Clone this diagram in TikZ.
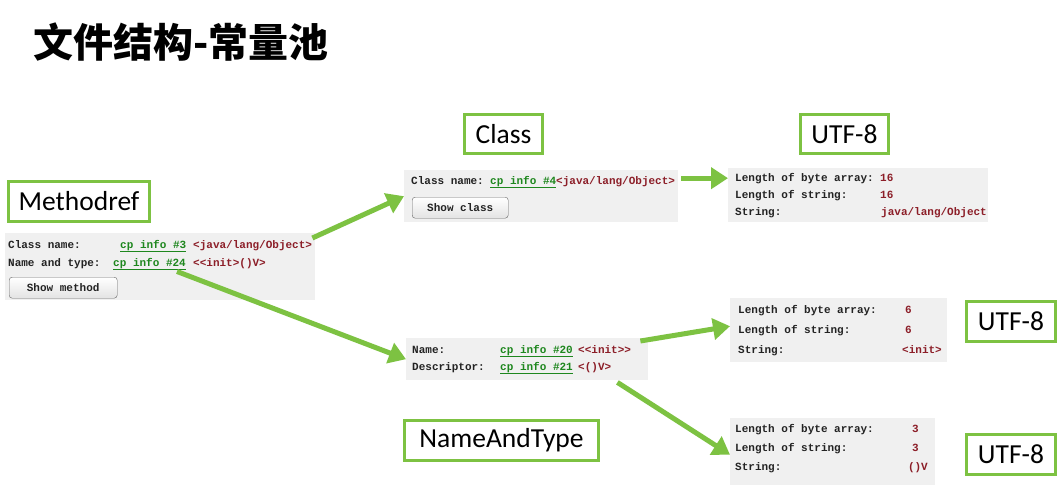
\documentclass[tikz,border=0pt]{standalone}
\usepackage{fontspec}
\setmainfont{Carlito}
\newfontfamily\cjk{Noto Sans CJK SC}
\newfontfamily\monof{Liberation Mono}
\usetikzlibrary{arrows.meta,calc}
\definecolor{lime}{RGB}{125,194,66}
\definecolor{panelbg}{RGB}{240,240,240}
\definecolor{lnkc}{RGB}{30,135,30}
\definecolor{valc}{RGB}{140,30,40}
\definecolor{lblc}{RGB}{35,35,35}
\begin{document}
\begin{tikzpicture}[x=1pt,y=-1pt,
  panel/.style={fill=panelbg, draw=none, anchor=north west, inner sep=0},
  tag/.style={draw=lime, line width=3pt, fill=white, anchor=north west, inner sep=0,
    font=\fontsize{27.5}{30}\selectfont, text=black},
  txt/.style={anchor=base west, inner sep=0, text=lblc, font=\monof\bfseries\fontsize{11}{13}\selectfont},
  lnk/.style={txt, text=lnkc},
  val/.style={txt, text=valc},
  btn/.style={draw=gray!80!black, rounded corners=3pt, top color=white, bottom color=gray!22,
    anchor=north west, inner sep=0, text=lblc, font=\monof\bfseries\fontsize{11}{13}\selectfont},
  arr/.style={draw=lime, line width=5pt, -{Triangle[length=17pt,width=21pt]}}
]
\fill[white] (0,0) rectangle (1059,487);
\useasboundingbox (0,0) rectangle (1059,487);

% title
\node[anchor=west, inner sep=0, font=\cjk\bfseries\fontsize{40}{44}\selectfont] (title) at (33,42) {文件结构-常量池};

% panels
\node[panel, minimum width=310, minimum height=67] (p1) at (5,233) {};
\node[panel, minimum width=274, minimum height=52] (p2) at (404,170) {};
\node[panel, minimum width=260, minimum height=54] (p3) at (728,168) {};
\node[panel, minimum width=242, minimum height=42] (p4) at (406,338) {};
\node[panel, minimum width=217, minimum height=64] (p5) at (730,298) {};
\node[panel, minimum width=205, minimum height=67] (p6) at (730,418) {};

% panel 1
\node[txt] (p1a) at (8,248) {Class name:};
\node[lnk] (l3) at (120,248) {\underline{cp info \#3}};
\node[val] (v1a) at (193,248) {<java/lang/Object>};
\node[txt] (p1b) at (8,266) {Name and type:};
\node[lnk] (l24) at (113,266) {\underline{cp info \#24}};
\node[val] (v1b) at (193,266) {<<init>()V>};
\node[btn, minimum width=108, minimum height=21] (b1) at (9,277) {Show method};

% panel 2
\begin{scope}[every node/.append style={font=\monof\bfseries\fontsize{10.5}{12}\selectfont}]
\node[txt] (p2a) at (411,184) {Class name:};
\node[lnk] (l4) at (490,184) {\underline{cp info \#4}};
\node[val] (v2) at (556,184) {<java/lang/Object>};
\node[btn, minimum width=96, minimum height=21] (b2) at (412,197) {Show class};
\end{scope}

% panel 3
\node[txt] (p3a) at (735,181) {Length of byte array:};
\node[val] (v3a) at (880,181) {16};
\node[txt] (p3b) at (735,198) {Length of string:};
\node[val] (v3b) at (880,198) {16};
\node[txt] (p3c) at (735,215) {String:};
\node[val] (v3c) at (881,215) {java/lang/Object};

% panel 4
\node[txt] (p4a) at (412,353) {Name:};
\node[lnk] (l20) at (500,353) {\underline{cp info \#20}};
\node[val] (v4a) at (578,353) {<<init>>};
\node[txt] (p4b) at (412,370) {Descriptor:};
\node[lnk] (l21) at (500,370) {\underline{cp info \#21}};
\node[val] (v4b) at (578,370) {<()V>};

% panel 5
\begin{scope}[every node/.append style={font=\monof\bfseries\fontsize{11.7}{13}\selectfont}]
\node[txt] (p5a) at (738,313) {Length of byte array:};
\node[val] (v5a) at (905,313) {6};
\node[txt] (p5b) at (738,333) {Length of string:};
\node[val] (v5b) at (905,333) {6};
\node[txt] (p5c) at (738,353) {String:};
\node[val, anchor=base east] (v5c) at (942,353) {<init>};
\end{scope}

% panel 6
\begin{scope}[every node/.append style={font=\monof\bfseries\fontsize{12}{14}\selectfont}]
\node[txt] (p6a) at (735,432) {Length of byte array:};
\node[val] (v6a) at (912,432) {3};
\node[txt] (p6b) at (735,451) {Length of string:};
\node[val] (v6b) at (912,451) {3};
\node[txt] (p6c) at (735,470) {String:};
\node[val, anchor=base east] (v6c) at (928,470) {()V};
\end{scope}

% tags
\node[tag, minimum width=141, minimum height=40] (tm) at (7,180) {Methodref};
\node[tag, minimum width=78, minimum height=39] (tc) at (463,113) {Class};
\node[tag, minimum width=88, minimum height=39] (tu1) at (799,113) {UTF-8};
\node[tag, minimum width=89, minimum height=40] (tu2) at (965,300) {UTF-8};
\node[tag, minimum width=89, minimum height=40] (tu3) at (965,433) {UTF-8};
\node[tag, minimum width=194, minimum height=40] (tn) at (403,419) {NameAndType};

% arrows
\draw[arr] ($(p1.north east)+(-3,5)$) -- (p2.west);
\draw[arr] ($(l24.south east)+(-9,1)$) -- (p4.west);
\draw[arr] ($(v2.east)+(6,-3)$) -- ($(v2.east -| p3.west)+(0,-3)$);
\draw[arr] ($(p4.north east)+(-8,3)$) -- ($(p5.west)+(0,-4)$);
\draw[arr] ($(p4.south east)+(-31,2)$) -- ($(p6.west)+(0,3)$);
\end{tikzpicture}
\end{document}
